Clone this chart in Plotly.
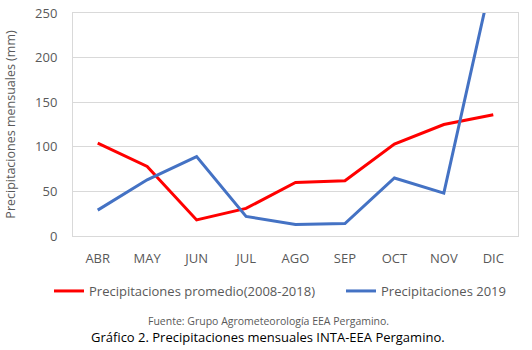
import plotly.graph_objects as go

months = ["ABR", "MAY", "JUN", "JUL", "AGO", "SEP", "OCT", "NOV", "DIC"]
promedio = [104, 78, 18, 31, 60, 62, 103, 125, 136]
lluvia_2019 = [29, 63, 89, 22, 13, 14, 65, 48, 296]
y_ticks = [0, 50, 100, 150, 200, 250]

FONT = "Open Sans"
GRAY = "#595959"

fig = go.Figure()
fig.add_trace(go.Scatter(x=months, y=promedio, mode="lines",
                         name="Precipitaciones promedio(2008-2018)",
                         line=dict(color="#FF0000", width=3), legend="legend"))
fig.add_trace(go.Scatter(x=months, y=lluvia_2019, mode="lines",
                         name="Precipitaciones 2019",
                         line=dict(color="#4472C4", width=3), legend="legend2"))

leg_common = dict(orientation="h", xref="container", yref="container",
                  xanchor="left", y=1 - 291 / 350, yanchor="middle",
                  font=dict(family=FONT, size=13, color=GRAY), itemwidth=30,
                  bgcolor="rgba(0,0,0,0)")

fig.update_layout(
    width=532, height=350,
    margin=dict(l=73, r=14, t=13, b=114, autoexpand=False),
    paper_bgcolor="white", plot_bgcolor="white",
    font=dict(family=FONT, size=13, color=GRAY),
    showlegend=True,
    legend=dict(x=49 / 532, **leg_common),
    legend2=dict(x=341 / 532, **leg_common),
    xaxis=dict(type="category", range=[-0.5, 8.5], showgrid=False, showline=True,
               linecolor="#D9D9D9", mirror=True, ticks="", ticklabelstandoff=10,
               tickfont=dict(size=13, color=GRAY)),
    yaxis=dict(range=[0, 250], tickvals=y_ticks, showgrid=True, gridcolor="#D9D9D9",
               gridwidth=1, showline=True, linecolor="#D9D9D9", mirror=True,
               zeroline=False, ticks="", ticklabelstandoff=12,
               tickfont=dict(size=13, color=GRAY),
               title=dict(text="Precipitaciones mensuales (mm)", standoff=16,
                          font=dict(size=12.5, color=GRAY))),
    annotations=[
        dict(text="Fuente: Grupo Agrometeorología EEA Pergamino.", x=0.439, y=-0.38,
             xref="paper", yref="paper", showarrow=False, yanchor="middle",
             font=dict(family=FONT, size=10.5, color=GRAY)),
        dict(text="Gráfico 2. Precipitaciones mensuales INTA-EEA Pergamino.", x=0.439, y=-0.453,
             xref="paper", yref="paper", showarrow=False, yanchor="middle",
             font=dict(family=FONT, size=13, color="#000000")),
    ],
)

fig.write_html("out.html")
